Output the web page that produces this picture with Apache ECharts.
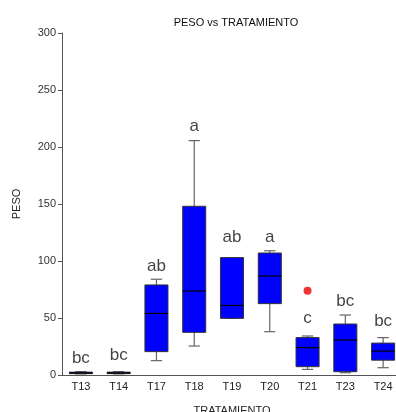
<!DOCTYPE html>
<html><head><meta charset="utf-8">
<script src="https://cdn.jsdelivr.net/npm/echarts@6/dist/echarts.min.js"></script>
<style>html,body{margin:0;padding:0;background:#fff;overflow:hidden}#c{width:396px;height:412px}</style>
</head><body><div id="c"></div>
<script>
const categories = ['T13','T14','T17','T18','T19','T20','T21','T23','T24'];
const mins    = [1.0, 1.0, 12.6, 25.4, 49.7, 38.0, 4.9, 2.0, 6.4];
const q1s     = [1.2, 1.2, 20.5, 37.4, 49.7, 62.6, 7.3, 2.9, 13.0];
const medians = [1.8, 1.8, 54.0, 73.7, 61.0, 86.8, 24.0, 30.7, 21.0];
const q3s     = [2.5, 2.5, 79.0, 148.0, 103.0, 107.0, 32.8, 44.7, 28.0];
const maxs    = [3.0, 3.0, 84.0, 205.6, 103.0, 109.0, 34.2, 52.6, 32.8];
const letters = ['bc','bc','ab','a','ab','a','c','bc','bc'];
const letterY = [15, 17.5, 95.6, 218, 121, 121, 50, 65, 47.4];
const outliers = [['T21', 74]];
const yTicks = [0, 50, 100, 150, 200, 250, 300];

const boxData = categories.map((c, i) => [i, mins[i], q1s[i], medians[i], q3s[i], maxs[i]]);
const chart = echarts.init(document.getElementById('c'));
const FONT = 'Liberation Sans, Arial, sans-serif';
chart.setOption({
  animation: false,
  title: { text: 'PESO vs TRATAMIENTO', left: 231, top: 12, textAlign: 'center',
    textStyle: { fontSize: 11, fontWeight: 'normal', color: '#111', fontFamily: FONT } },
  grid: { left: 62, top: 33, height: 342, width: 340, containLabel: false, outerBoundsMode: 'none' },
  xAxis: { type: 'category', data: categories, name: 'TRATAMIENTO', nameLocation: 'middle', nameGap: 30,
    nameTextStyle: { fontSize: 11, color: '#222', fontFamily: FONT },
    axisLine: { lineStyle: { color: '#555' } },
    axisTick: { alignWithLabel: true, length: 4, lineStyle: { color: '#555' } },
    axisLabel: { fontSize: 11, color: '#222', margin: 6, fontFamily: FONT },
    splitLine: { show: false } },
  yAxis: { type: 'value', min: yTicks[0], max: yTicks[yTicks.length - 1], interval: 50, name: 'PESO', nameLocation: 'middle', nameGap: 40,
    nameTextStyle: { fontSize: 11, color: '#222', fontFamily: FONT },
    axisLine: { show: true, lineStyle: { color: '#555' } },
    axisTick: { show: true, length: 4, lineStyle: { color: '#555' } },
    axisLabel: { fontSize: 11, color: '#333', margin: 6, fontFamily: FONT },
    splitLine: { show: false } },
  series: [
    { type: 'custom', data: boxData, z: 2,
      renderItem: function (params, api) {
        const x = api.value(0);
        const pMin = api.coord([x, api.value(1)]);
        const pQ1 = api.coord([x, api.value(2)]);
        const pMed = api.coord([x, api.value(3)]);
        const pQ3 = api.coord([x, api.value(4)]);
        const pMax = api.coord([x, api.value(5)]);
        const bw = api.size([1, 0])[0] * 0.61;
        const cw = api.size([1, 0])[0] * 0.3;
        const cx = pMed[0];
        const wStyle = { stroke: '#666', lineWidth: 1.2 };
        return { type: 'group', children: [
          { type: 'line', shape: { x1: cx, y1: pQ3[1], x2: cx, y2: pMax[1] }, style: wStyle },
          { type: 'line', shape: { x1: cx, y1: pQ1[1], x2: cx, y2: pMin[1] }, style: wStyle },
          { type: 'line', shape: { x1: cx - cw/2, y1: pMax[1], x2: cx + cw/2, y2: pMax[1] }, style: wStyle },
          { type: 'line', shape: { x1: cx - cw/2, y1: pMin[1], x2: cx + cw/2, y2: pMin[1] }, style: wStyle },
          { type: 'rect', shape: { x: cx - bw/2, y: pQ3[1], width: bw, height: Math.max(pQ1[1] - pQ3[1], 1) },
            style: { fill: '#0000ff', stroke: '#333', lineWidth: 1 } },
          { type: 'line', shape: { x1: cx - bw/2, y1: pMed[1], x2: cx + bw/2, y2: pMed[1] },
            style: { stroke: '#000', lineWidth: 1.2 } }
        ]};
      }
    },
    { type: 'scatter', data: outliers, symbolSize: 8, itemStyle: { color: '#ee0000' }, z: 3 },
    { type: 'scatter', data: categories.map((c, i) => [c, letterY[i], letters[i]]), symbolSize: 0, z: 4,
      label: { show: true, position: 'inside', formatter: p => p.data[2], fontSize: 17, color: '#111', fontFamily: FONT } }
  ]
});
</script></body></html>
